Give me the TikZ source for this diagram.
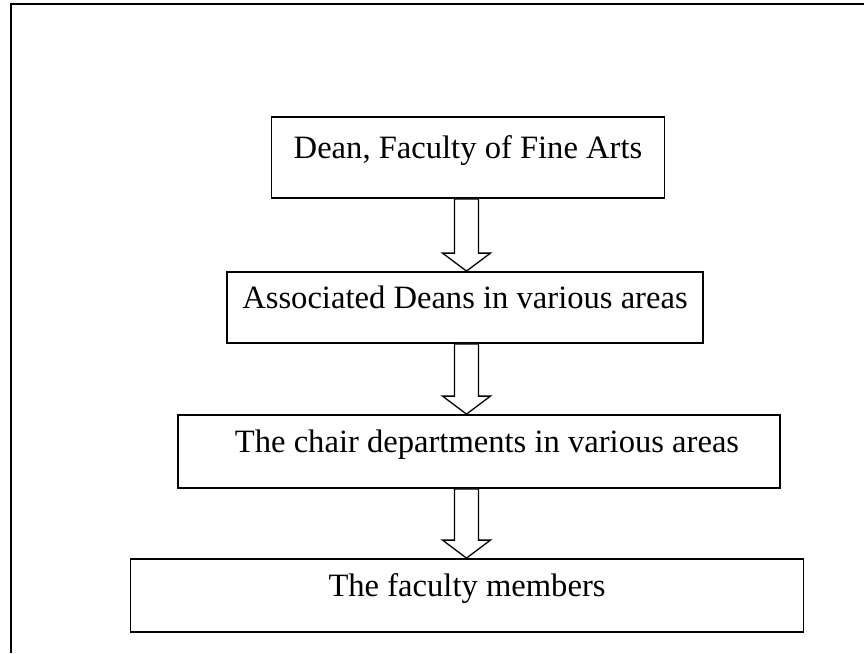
\documentclass[tikz,border=0pt]{standalone}
\usepackage{fontspec}
\setmainfont{Liberation Serif}
\usetikzlibrary{calc}
\begin{document}
\begin{tikzpicture}[x=1pt,y=-1pt,
  unitbox/.style={draw, line width=1.8pt, inner sep=0pt,
    text height=0.65em, text depth=0.4em,
    font=\fontsize{32.6}{38}\selectfont},
  blockarrow/.style={draw, line width=1.3pt, fill=white, line join=miter}]
\useasboundingbox (0,0) rectangle (864,653);
% open frame: top and left edges
\draw[line width=2.2pt] (11,653) -- (11,4) -- (864,4);

% hierarchy levels
\node[unitbox, minimum width=393pt, minimum height=81pt] (dean)  at (468,157.5) {Dean, Faculty of Fine Arts};
\node[unitbox, minimum width=476pt, minimum height=71pt] (assoc) at (465,307.5) {Associated Deans in various areas};
\node[unitbox, minimum width=602pt, minimum height=73pt] (chair) at (479,451.5) {\hspace*{16pt}The chair departments in various areas};
\node[unitbox, minimum width=673pt, minimum height=73pt] (staff) at (467,595.5) {The faculty members};

% common vertical axis of the hollow arrows
\coordinate (axis) at (466.5,0);

\foreach \a/\b in {dean/assoc, assoc/chair, chair/staff}{
  \path[blockarrow] let \p1=(axis |- \a.south), \p2=(axis |- \b.north) in
    (\x1-12pt,\y1) -- (\x1+12pt,\y1) -- (\x1+12pt,\y2+18pt) -- (\x1+24pt,\y2+18pt)
    -- (\x1,\y2) -- (\x1-24pt,\y2+18pt) -- (\x1-12pt,\y2+18pt) -- cycle;
}
\end{tikzpicture}
\end{document}
